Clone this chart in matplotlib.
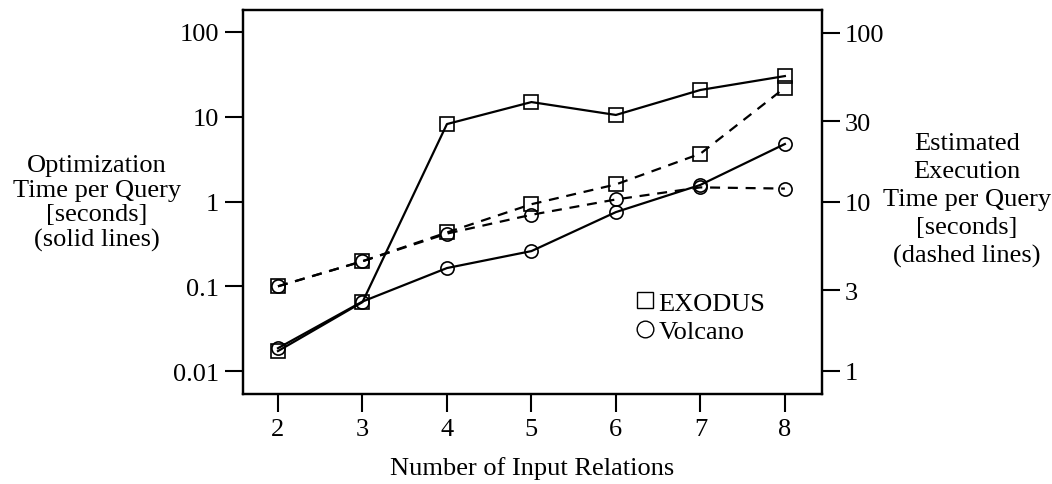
import numpy as np
import matplotlib
matplotlib.use("Agg")
import matplotlib.pyplot as plt
from matplotlib.lines import Line2D

plt.rcParams["font.family"] = ["Liberation Serif", "DejaVu Serif"]
plt.rcParams["font.size"] = 19

# number of input relations
relations = [2, 3, 4, 5, 6, 7, 8]

# optimization time per query [s] (left axis, solid lines)
exodus_opt = [0.0172, 0.065, 8.2, 14.9, 10.5, 20.7, 30.2]
volcano_opt = [0.0186, 0.066, 0.164, 0.26, 0.75, 1.57, 4.77]

# estimated execution time per query [s] (right axis, dashed lines)
exodus_exec = [3.17, 4.46, 6.6, 9.7, 12.7, 19.3, 47.4]
volcano_exec = [3.17, 4.46, 6.5, 8.4, 10.35, 12.2, 12.0]

left_ticks = [0.01, 0.1, 1, 10, 100]
left_labels = ["0.01", "0.1", "1", "10", "100"]
right_ticks = [1, 3, 10, 30, 100]
right_labels = ["1", "3", "10", "30", "100"]

fig = plt.figure(figsize=(10.52, 4.85), dpi=100)
ax = fig.add_axes([0.231, 0.1856, 0.5504, 0.7918])
ax2 = ax.twinx()

lw = 1.6
mk = dict(markersize=9.5, markerfacecolor="none", markeredgecolor="black",
          markeredgewidth=1.2)

ax.plot(relations, exodus_opt, "-", color="black", lw=lw, marker="s", **mk)
ax.plot(relations, volcano_opt, "-", color="black", lw=lw, marker="o", **mk)
ax2.plot(relations, exodus_exec, "--", color="black", lw=lw, dashes=(4.5, 3.5),
         marker="s", **mk)
ax2.plot(relations, volcano_exec, "--", color="black", lw=lw, dashes=(4.5, 3.5),
         marker="o", **mk)

ax.set_yscale("log")
ax2.set_yscale("log")
ax.set_xlim(1.586, 8.44)
ax.set_ylim(10 ** -2.271, 10 ** 2.26)
ax2.set_ylim(10 ** -0.136, 10 ** 2.136)

ax.set_xticks(relations)
ax.set_yticks(left_ticks)
ax.set_yticklabels(left_labels)
ax.yaxis.set_minor_locator(matplotlib.ticker.NullLocator())
ax2.set_yticks(right_ticks)
ax2.set_yticklabels(right_labels)
ax2.yaxis.set_minor_locator(matplotlib.ticker.NullLocator())

for a in (ax, ax2):
    for s in a.spines.values():
        s.set_linewidth(1.6)
    a.tick_params(axis="both", which="major", length=13, width=1.5,
                  direction="out", pad=4)
ax2.tick_params(axis="y", pad=3)

ax.set_xlabel("Number of Input Relations", labelpad=12)

fig.text(0.092, 0.580, "Optimization\nTime per Query\n[seconds]\n(solid lines)",
         ha="center", va="center", linespacing=1.15)
fig.text(0.919, 0.587,
         "Estimated\nExecution\nTime per Query\n[seconds]\n(dashed lines)",
         ha="center", va="center", linespacing=1.35)

# legend: marker symbols only
handles = [
    Line2D([], [], ls="none", marker="s", markersize=12, markerfacecolor="none",
           markeredgecolor="black", markeredgewidth=1.0),
    Line2D([], [], ls="none", marker="o", markersize=12, markerfacecolor="none",
           markeredgecolor="black", markeredgewidth=1.0),
]
ax.legend(handles, ["EXODUS", "Volcano"], loc="center",
          bbox_to_anchor=(0.79, 0.2), frameon=False, handlelength=0.7,
          handletextpad=0.15, labelspacing=0.2, borderpad=0)

fig.savefig("out.png", dpi=100)
